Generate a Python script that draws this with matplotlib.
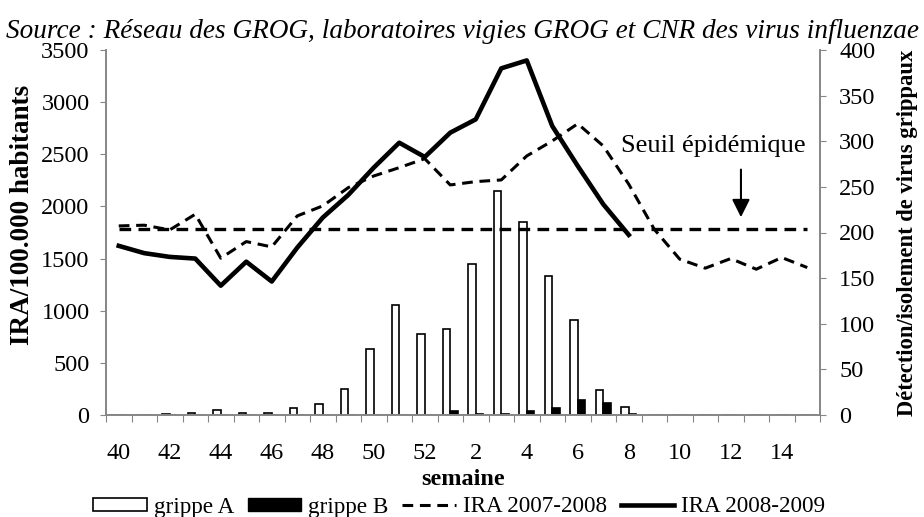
import matplotlib as mpl
mpl.use("Agg")
import matplotlib.pyplot as plt
import numpy as np
from matplotlib.patches import Patch
from matplotlib.lines import Line2D

mpl.rcParams["font.family"] = ["Liberation Serif", "DejaVu Serif"]

weeks = [str(w) for w in range(40, 53)] + [str(w) for w in range(1, 16)]
grippe_a = [0, 0, 1, 2, 5, 2, 2, 8, 12, 29, 72, 121, 89,
            94, 165, 246, 212, 152, 104, 27, 9, 0, 0, 0, 0, 0, 0, 0]
grippe_b = [0, 0, 0, 0, 0, 0, 0, 0, 0, 0, 0, 0, 0,
            4, 1.5, 1, 4, 8, 16, 13, 1, 0, 0, 0, 0, 0, 0, 0]
ira_0708 = [1813, 1820, 1775, 1925, 1504, 1663, 1612, 1909, 2005, 2180, 2292, 2372, 2458,
            2206, 2238, 2254, 2484, 2628, 2793, 2580, 2213, 1781, 1494, 1408, 1500, 1398, 1510, 1414]
ira_0809 = [1622, 1552, 1516, 1500, 1240, 1470, 1280, 1605, 1893, 2110, 2372, 2611, 2474,
            2707, 2835, 3324, 3400, 2771, 2388, 2021, 1727]
seuil = 1780

grey = "#868686"
fs = 17.5

fig = plt.figure(figsize=(9.24, 5.17), dpi=100)
ax = fig.add_axes([106 / 924, 1 - 415 / 517, 714 / 924, 365 / 517])
ax2 = ax.twinx()

x = np.arange(len(weeks))
w = 0.3
ax2.bar(x - w / 2, grippe_a, width=w, facecolor="white", edgecolor="black", linewidth=1.2)
ax2.bar(x + w / 2, grippe_b, width=w, facecolor="black", edgecolor="black", linewidth=1.2)

ax.plot(x, ira_0708, color="black", linestyle=(0, (3.5, 2.2)), linewidth=2.2)
ax.plot(x[:len(ira_0809)], ira_0809, color="black", linestyle="-", linewidth=3.3)
ax.plot([x[0], x[-1]], [seuil, seuil], color="black", linestyle=(0, (3.5, 2.2)), linewidth=2.4)

ax.annotate("", xy=(24.4, 1870), xytext=(24.4, 2380),
            arrowprops=dict(arrowstyle="-|>", color="black", lw=1.5, mutation_scale=27))
ax.text(23.3, 2580, "Seuil épidémique", fontsize=19, ha="center", va="center")

ax.set_zorder(ax2.get_zorder() + 1)
ax.patch.set_visible(False)

ax.set_xlim(-0.5, len(weeks) - 0.5)
ax.set_ylim(0, 3500)
ax.set_yticks(np.arange(0, 3501, 500))
ax2.set_ylim(0, 400)
ax2.set_yticks(np.arange(0, 401, 50))

ax.set_xticks(np.arange(-0.5, len(weeks)), minor=False)
ax.set_xticklabels([])
ax.set_xticks(x[::2], minor=True)
ax.set_xticklabels(weeks[::2], minor=True)
ax.tick_params(axis="x", which="major", length=5, color=grey, direction="out")
ax.tick_params(axis="x", which="minor", length=0, pad=20, labelsize=fs)
ax.tick_params(axis="y", length=4.3, color=grey, labelsize=fs, pad=7.5)
ax2.tick_params(axis="y", length=4.3, color=grey, labelsize=fs, pad=9.5)

for a in (ax, ax2):
    a.spines["top"].set_visible(False)
    for s in ("left", "right", "bottom"):
        a.spines[s].set_color(grey)
        a.spines[s].set_linewidth(1.2)

ax.set_ylabel("IRA/100.000 habitants", fontsize=19.5, fontweight="bold")
ax.yaxis.set_label_coords(-0.099, 0.548)
ax2.set_ylabel("Détection/isolement de virus grippaux", fontsize=16.3, fontweight="bold")
ax2.yaxis.set_label_coords(1.1077, 0.499)
ax.set_xlabel("semaine", fontsize=fs, fontweight="bold", labelpad=4)

fig.text(0.5, 1 - 31 / 517, "Source : Réseau des GROG, laboratoires vigies GROG et CNR des virus influenzae",
         fontsize=19.6, style="italic", ha="center", va="center")

handles = [Patch(facecolor="white", edgecolor="black", linewidth=1.2),
           Patch(facecolor="black", edgecolor="black"),
           Line2D([], [], color="black", linestyle=(0, (3.5, 2.2)), linewidth=2.2),
           Line2D([], [], color="black", linestyle="-", linewidth=3.3)]
fig.legend(handles, ["grippe A", "grippe B", "IRA 2007-2008", "IRA 2008-2009"],
           loc="center", bbox_to_anchor=(0.497, 1 - 507 / 517), ncol=4, frameon=False,
           fontsize=16.7, handlelength=2.3, handleheight=0.5, handletextpad=0.3,
           columnspacing=0.6, borderpad=0)

fig.savefig("out.png", dpi=100)
